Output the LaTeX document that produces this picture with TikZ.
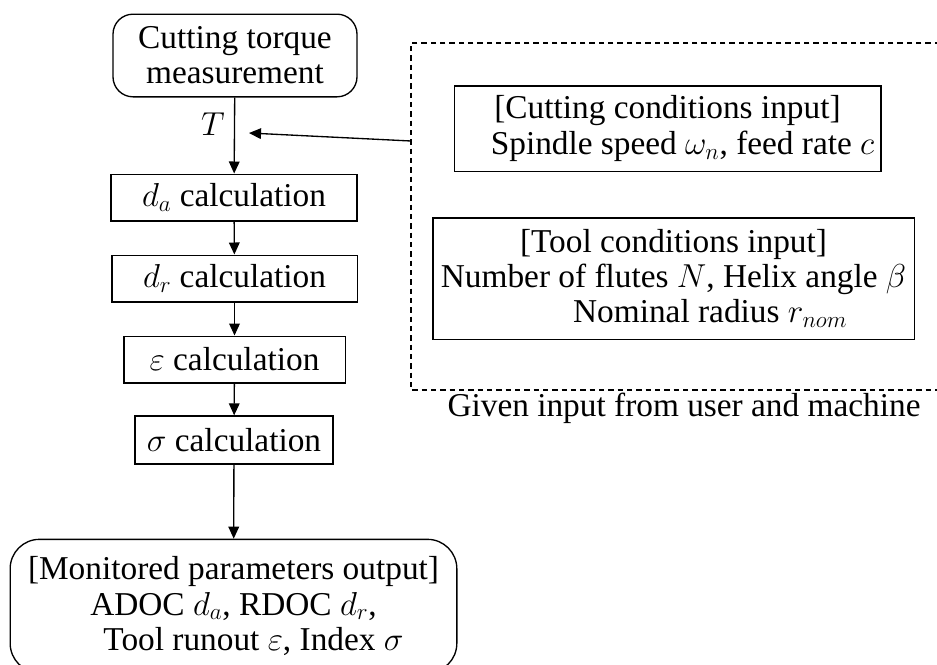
\documentclass[tikz,border=0pt]{standalone}
\usepackage{fontspec}
\setmainfont{Liberation Serif}
\usetikzlibrary{arrows.meta}
\begin{document}
\begin{tikzpicture}[x=0.75pt,y=-0.75pt,
  every node/.style={font=\fontsize{25}{26.3}\selectfont, inner sep=0pt},
  procbox/.style={draw, line width=1pt, minimum height=35pt, align=center},
  roundbox/.style={draw, line width=1pt, rounded corners=15pt, align=center},
  inbox/.style={draw, line width=1pt, align=center},
  flow/.style={line width=1pt, -{Triangle[length=9pt,width=8pt]}},
  dashedline/.style={line width=1pt, dash pattern=on 4pt off 3pt}]
\useasboundingbox (0,0) rectangle (937,664);
% left column
\node[roundbox, minimum width=183pt, minimum height=62pt] (top) at (235,55.5) {Cutting torque\\measurement};
\node[procbox, minimum width=184.5pt] (da) at (234,197.5) {$d_a$ calculation};
\node[procbox, minimum width=184pt] (dr) at (234.5,278.5) {$d_r$ calculation};
\node[procbox, minimum width=166pt] (eps) at (234.5,359.5) {$\varepsilon$ calculation};
\node[procbox, minimum width=148.5pt, minimum height=36pt] (sig) at (234,440) {$\sigma$ calculation};
\node[roundbox, rounded corners=22pt, minimum width=335pt, minimum height=100pt] (out) at (233.5,606) {[Monitored parameters output]\\ADOC $d_a$, RDOC $d_r$,\\\hspace*{1.2em}Tool runout $\varepsilon$, Index $\sigma$};
\node (tl) at (213,124) {$T$};
% arrows
\draw[flow] (top) -- (da);
\draw[flow] (da) -- (dr);
\draw[flow] (dr) -- (eps);
\draw[flow] (eps) -- (sig);
\draw[flow] (sig) -- (out);
% dashed group
\coordinate (dtr) at (940,43);
\coordinate (dtl) at (411,43);
\coordinate (dbl) at (411,390);
\coordinate (dbr) at (940,390);
\draw[dashedline] (dtr) -- (dtl) -- (dbl) -- (dbr);
\node[inbox, minimum width=320pt, minimum height=64pt] (cc) at (667.5,128.5) {[Cutting conditions input]\\\hspace*{0.9em}Spindle speed $\omega_n$, feed rate $c$};
\node[inbox, minimum width=361pt, minimum height=91pt] (tc) at (673.5,278.5) {[Tool conditions input]\\Number of flutes $N$, Helix angle $\beta$\\\hspace*{2.2em}Nominal radius $r_{nom}$};
\node (cap) at (684,408) {Given input from user and machine};
% input arrow
\coordinate (src) at (411,141);
\coordinate (tip) at (249,133);
\draw[flow] (src) -- (tip);
\end{tikzpicture}
\end{document}
